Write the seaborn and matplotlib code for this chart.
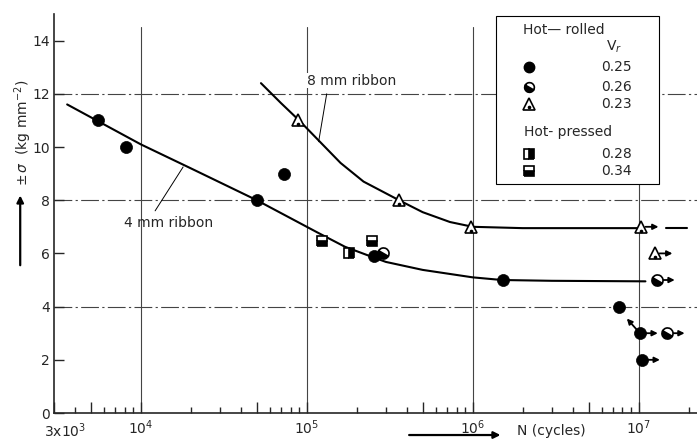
import numpy as np
import pandas as pd
import matplotlib
matplotlib.use('Agg')
import matplotlib.pyplot as plt
from matplotlib.markers import MarkerStyle
from matplotlib.transforms import Affine2D, ScaledTranslation
from matplotlib.patches import Rectangle
from matplotlib.lines import Line2D
import seaborn as sns

# data
# hot-rolled, Vr = 0.25 (filled circles)
circ_N = [5.5e3, 8.1e3, 5.0e4, 7.3e4, 2.55e5, 1.52e6, 7.6e6, 1.02e7, 1.05e7]
circ_S = [11.0, 10.0, 8.0, 9.0, 5.9, 5.0, 4.0, 3.0, 2.0]
circ_run = [0, 0, 0, 0, 0, 0, 0, 1, 1]
# hot-rolled, Vr = 0.26 (half filled circles)
half_N = [2.9e5, 1.29e7, 1.48e7]
half_S = [6.0, 5.0, 3.0]
half_run = [0, 1, 1]
# hot-rolled, Vr = 0.23 (triangles)
tri_N = [8.9e4, 3.6e5, 9.75e5, 1.03e7, 1.25e7]
tri_S = [11.0, 8.0, 7.0, 7.0, 6.0]
tri_run = [0, 0, 0, 1, 1]
# hot-pressed
sq28_N = [1.8e5]
sq28_S = [6.0]
sq34_N = [1.23e5, 2.47e5]
sq34_S = [6.45, 6.45]

# fitted curves
r4_N = [3.6e3, 1e4, 2e4, 5e4, 1.15e5, 1.7e5, 2.4e5, 3e5, 5e5, 1e6, 1.5e6, 3e6, 1.1e7]
r4_S = [11.6, 10.1, 9.2, 8.0, 6.8, 6.25, 5.9, 5.68, 5.38, 5.1, 5.0, 4.97, 4.95]
r8_N = [5.3e4, 7e4, 9e4, 1.2e5, 1.6e5, 2.2e5, 3.6e5, 5e5, 7.3e5, 1e6, 2e6, 1e7]
r8_S = [12.4, 11.65, 11.0, 10.2, 9.4, 8.7, 8.0, 7.55, 7.18, 7.0, 6.95, 6.95]
r8_ext_N = [1.46e7, 1.95e7]
r8_ext_S = [6.95, 6.95]

# vr legend values
vr_rolled = ['0.25', '0.26', '0.23']
vr_pressed = ['0.28', '0.34']

sns.set_style('ticks')
plt.rcParams['font.family'] = ['DejaVu Sans']
plt.rcParams['mathtext.fontset'] = 'dejavusans'

fig = plt.figure(figsize=(6.97, 4.43), dpi=100)
ax = fig.add_axes([0.0775, 0.0677, 0.9225, 0.9007])
ax.set_xscale('log')
ax.set_xlim(3e3, 2.25e7)
ax.set_ylim(0, 15)

# grid
for g in [4, 8, 12]:
    ax.axhline(g, color='#444444', lw=0.8, ls=(0, (16, 3, 2, 3)), zorder=0)
for g in [1e4, 1e5, 1e6, 1e7]:
    ax.plot([g, g], [0, 14.5], color='#444444', lw=0.8, zorder=0)

# curves
d4 = pd.DataFrame({'N': r4_N, 'S': r4_S})
d8 = pd.DataFrame({'N': r8_N, 'S': r8_S})
sns.lineplot(data=d4, x='N', y='S', ax=ax, color='black', lw=1.5, sort=False, zorder=2)
sns.lineplot(data=d8, x='N', y='S', ax=ax, color='black', lw=1.5, sort=False, zorder=2)
ax.plot(r8_ext_N, r8_ext_S, color='black', lw=1.5, zorder=2)

# points
dc = pd.DataFrame({'N': circ_N, 'S': circ_S})
sns.scatterplot(data=dc, x='N', y='S', ax=ax, color='black', s=75, marker='o',
                edgecolor='black', linewidth=0.5, zorder=4)

half_m = MarkerStyle('o', fillstyle='bottom', transform=Affine2D().rotate_deg(-30))
ax.plot(half_N, half_S, ls='', marker=half_m, ms=8, mfc='black', markerfacecoloralt='white',
        mec='black', mew=1.2, zorder=4)
ax.plot(tri_N, tri_S, ls='', marker='^', ms=9, mfc='white', mec='black', mew=1.2, zorder=4)
ax.plot(tri_N, [s - 0.15 for s in tri_S], ls='', marker='o', ms=1.6, color='black', zorder=5)
ax.plot(sq28_N, sq28_S, ls='', marker='s', ms=7, fillstyle='right', mfc='black',
        markerfacecoloralt='white', mec='black', mew=1.2, zorder=4)
ax.plot(sq34_N, sq34_S, ls='', marker='s', ms=7, fillstyle='bottom', mfc='black',
        markerfacecoloralt='white', mec='black', mew=1.2, zorder=4)

# run-out arrows
arw = dict(arrowstyle='-|>', color='black', lw=1.3, mutation_scale=8, shrinkA=0, shrinkB=0)
for N, S, r in list(zip(circ_N, circ_S, circ_run)) + list(zip(half_N, half_S, half_run)) + list(zip(tri_N, tri_S, tri_run)):
    if r:
        ax.annotate('', xy=(N * 1.28, S), xytext=(N * 1.07, S), arrowprops=arw, zorder=3)
ax.annotate('', xy=(8.5e6, 3.55), xytext=(9.7e6, 3.15), arrowprops=arw, zorder=3)

# curve labels
ax.text(1.48e4, 7.15, '4 mm ribbon', fontsize=10, ha='center', va='center')
ax.plot([1.8e4, 1.22e4], [9.25, 7.6], color='black', lw=0.7)
ax.text(1.87e5, 12.5, '8 mm ribbon', fontsize=10, ha='center', va='center',
        bbox=dict(fc='white', ec='none', pad=0.5))
ax.plot([1.32e5, 1.18e5], [12.0, 10.2], color='black', lw=0.7)

# axes styling
sns.despine(ax=ax, top=True, right=True)
for sp in ['left', 'bottom']:
    ax.spines[sp].set_linewidth(1.2)
ax.set_xticks([3e3, 5e3, 1e4, 5e4, 1e5, 5e5, 1e6, 5e6, 1e7])
ax.set_xticklabels(['3x10$^3$', '', '10$^4$', '', '10$^5$', '', '10$^6$', '', '10$^7$'])
minors = [m * 10 ** e for e in range(3, 8) for m in [2, 3, 4, 6, 7, 8, 9]]
ax.set_xticks([m for m in minors if 3e3 < m < 2.25e7], minor=True)
ax.tick_params(axis='x', which='major', direction='in', length=8, width=1, labelsize=10, pad=4)
ax.tick_params(axis='x', which='minor', direction='in', length=4.5, width=1)
ax.set_yticks(range(0, 15, 2))
ax.tick_params(axis='y', direction='in', length=7, width=1, labelsize=10, pad=3)
ax.set_xlabel('')
ax.set_ylabel('')
# nudge the first x label right/down so it clears the "0"
lab0 = ax.get_xticklabels()[0]
lab0.set_transform(lab0.get_transform() + ScaledTranslation(11 / 100, -3 / 100, fig.dpi_scale_trans))

# axis titles with arrows
fig.text(0.033, 0.70, r'$\pm\,\sigma$  (kg mm$^{-2}$)', rotation=90, fontsize=10,
         ha='center', va='center')
big = dict(arrowstyle='-|>', color='black', lw=1.6, mutation_scale=10)
ax.annotate('', xy=(0.029, 0.565), xytext=(0.029, 0.395), xycoords='figure fraction',
            textcoords='figure fraction', arrowprops=big, annotation_clip=False)
fig.text(0.742, 0.012, 'N (cycles)', fontsize=10, ha='left', va='bottom')
ax.annotate('', xy=(0.722, 0.018), xytext=(0.583, 0.018), xycoords='figure fraction',
            textcoords='figure fraction', arrowprops=big, annotation_clip=False)

# legend box
tf = fig.transFigure
fig.patches.append(Rectangle((0.7116, 0.5847), 0.2339, 0.3792, transform=tf,
                             fc='white', ec='black', lw=0.8, zorder=6))
fig.text(0.750, 0.932, 'Hot\u2014 rolled', fontsize=10, va='center', ha='left', zorder=7)
fig.text(0.881, 0.894, 'V$_r$', fontsize=10, va='center', ha='center', zorder=7)
fig.text(0.752, 0.702, 'Hot- pressed', fontsize=10, va='center', ha='left', zorder=7)
rows_y = [0.849, 0.804, 0.765]
for y, v in zip(rows_y, vr_rolled):
    fig.text(0.907, y, v, fontsize=10, va='center', ha='right', zorder=7)
for y, v in zip([0.652, 0.614], vr_pressed):
    fig.text(0.907, y, v, fontsize=10, va='center', ha='right', zorder=7)
lx = 0.759
leg_marks = [
    dict(ydata=[rows_y[0]], marker='o', ms=7.5, color='black'),
    dict(ydata=[rows_y[1]], marker=half_m, ms=7, mfc='black', markerfacecoloralt='white', mec='black', mew=1.2),
    dict(ydata=[rows_y[2]], marker='^', ms=8.5, mfc='white', mec='black', mew=1.2),
    dict(ydata=[0.652], marker='s', ms=7, fillstyle='right', mfc='black', markerfacecoloralt='white', mec='black', mew=1.2),
    dict(ydata=[0.614], marker='s', ms=7, fillstyle='bottom', mfc='black', markerfacecoloralt='white', mec='black', mew=1.2),
]
for kw in leg_marks:
    yd = kw.pop('ydata')
    fig.add_artist(Line2D([lx], yd, ls='', transform=tf, zorder=7, **kw))
fig.add_artist(Line2D([lx], [rows_y[2] - 0.006], ls='', marker='o', ms=1.6, color='black',
                      transform=tf, zorder=8))

fig.savefig('out.png', dpi=100)
